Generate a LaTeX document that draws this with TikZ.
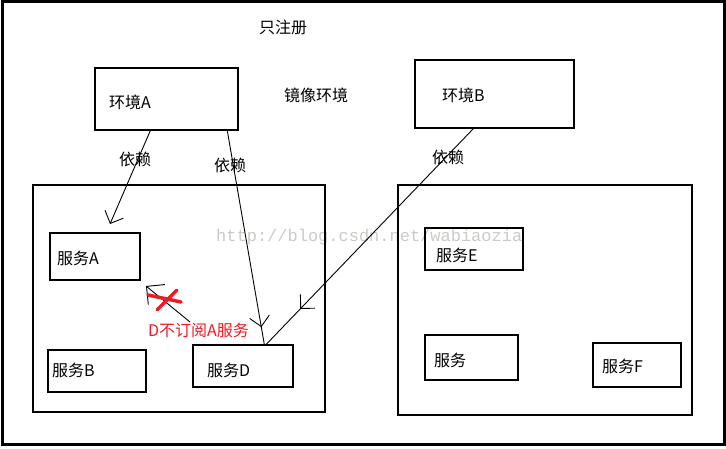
\documentclass[tikz,border=0pt]{standalone}
\usepackage{fontspec}
\setmainfont{Noto Sans CJK SC}
\newfontfamily\wmfont{Liberation Mono}
\usepackage{tikz}
\usetikzlibrary{arrows.meta,decorations.markings}
\definecolor{markred}{RGB}{237,28,36}
\definecolor{wmgray}{RGB}{205,202,198}
\tikzstyle{Box}=[rectangle, draw=black, line width=1.4pt, inner sep=0]
\tikzstyle{Lbl}=[inner sep=0, anchor=west, font=\fontsize{16}{18}\selectfont]
\tikzstyle{Dep}=[line width=0.9pt, -{Straight Barb[length=10pt,width=20pt]}]

\begin{document}
\begin{tikzpicture}[x=1pt,y=-1pt]
    \useasboundingbox (0,0) rectangle (726,449);
    \draw[line width=3pt] (2.5,1.5) rectangle (724,444);
    % watermark
    \path (216,242) node[anchor=base west, inner sep=0, text=wmgray, font=\wmfont\fontsize{17}{18}\selectfont] (wm) {http://blog.csdn.net/wabiaozia};

    \path
    (166.5,99) node[Box, minimum width=143, minimum height=62] (envA) {}
    (494.5,94) node[Box, minimum width=159, minimum height=68] (envB) {}
    (179,298.5) node[Box, minimum width=292, minimum height=227] (left) {}
    (545,300) node[Box, minimum width=294, minimum height=230] (right) {};

    \path
    (95,256.5) node[Box, minimum width=90, minimum height=47] (svcA) {}
    (97,371) node[Box, minimum width=98, minimum height=42] (svcB) {}
    (243,366) node[Box, minimum width=100, minimum height=42] (svcD) {}
    (474,249) node[Box, minimum width=98, minimum height=42] (svcE) {}
    (471.5,357.5) node[Box, minimum width=93, minimum height=45] (svc) {}
    (637,365) node[Box, minimum width=88, minimum height=44] (svcF) {};

    \path
    (259,27.5) node[Lbl] (reg) {只注册}
    (109,102) node[Lbl] (envAtext) {环境A}
    (284,95) node[Lbl] (mirror) {镜像环境}
    (442,95) node[Lbl] (envBtext) {环境B}
    (119,159.5) node[Lbl] (dep1) {依赖}
    (214,165.5) node[Lbl] (dep2) {依赖}
    (432,157.5) node[Lbl] (dep3) {依赖}
    (57,258) node[Lbl] (svcAtext) {服务A}
    (52,370) node[Lbl] (svcBtext) {服务B}
    (207,370) node[Lbl] (svcDtext) {服务D}
    (436,255) node[Lbl] (svcEtext) {服务E}
    (434,360) node[Lbl] (svctext) {服务}
    (602,366) node[Lbl] (svcFtext) {服务F}
    (148,330.5) node[Lbl, text=markred] (nosub) {D不订阅A服务};

    \coordinate (toA) at (110,224);
    \coordinate (fromD) at (190,322);
    \coordinate (nearA) at (146,286);

    \draw[Dep] ([xshift=56]envA.south west) -- (toA);
    \draw[line width=0.9pt, decoration={markings, mark=at position 0.92 with {\arrow{Straight Barb[length=10pt,width=20pt]}}}, postaction=decorate]
        ([xshift=133]envA.south west) -- ([xshift=72]svcD.north west);
    \draw[line width=0.9pt, decoration={markings, mark=at position 0.836 with {\arrow{Straight Barb[length=10pt,width=20pt]}}}, postaction=decorate]
        ([xshift=59]envB.south west) -- ([xshift=74]svcD.north west);
    \draw[Dep, -{Straight Barb[length=13pt,width=26pt]}] (fromD) -- (nearA);

    % red cross
    \draw[markred, line width=3.5pt, line cap=round] (148,295) -- (181,302);
    \draw[markred, line width=3.5pt, line cap=round] (157,310) -- (177,290);
\end{tikzpicture}
\end{document}
